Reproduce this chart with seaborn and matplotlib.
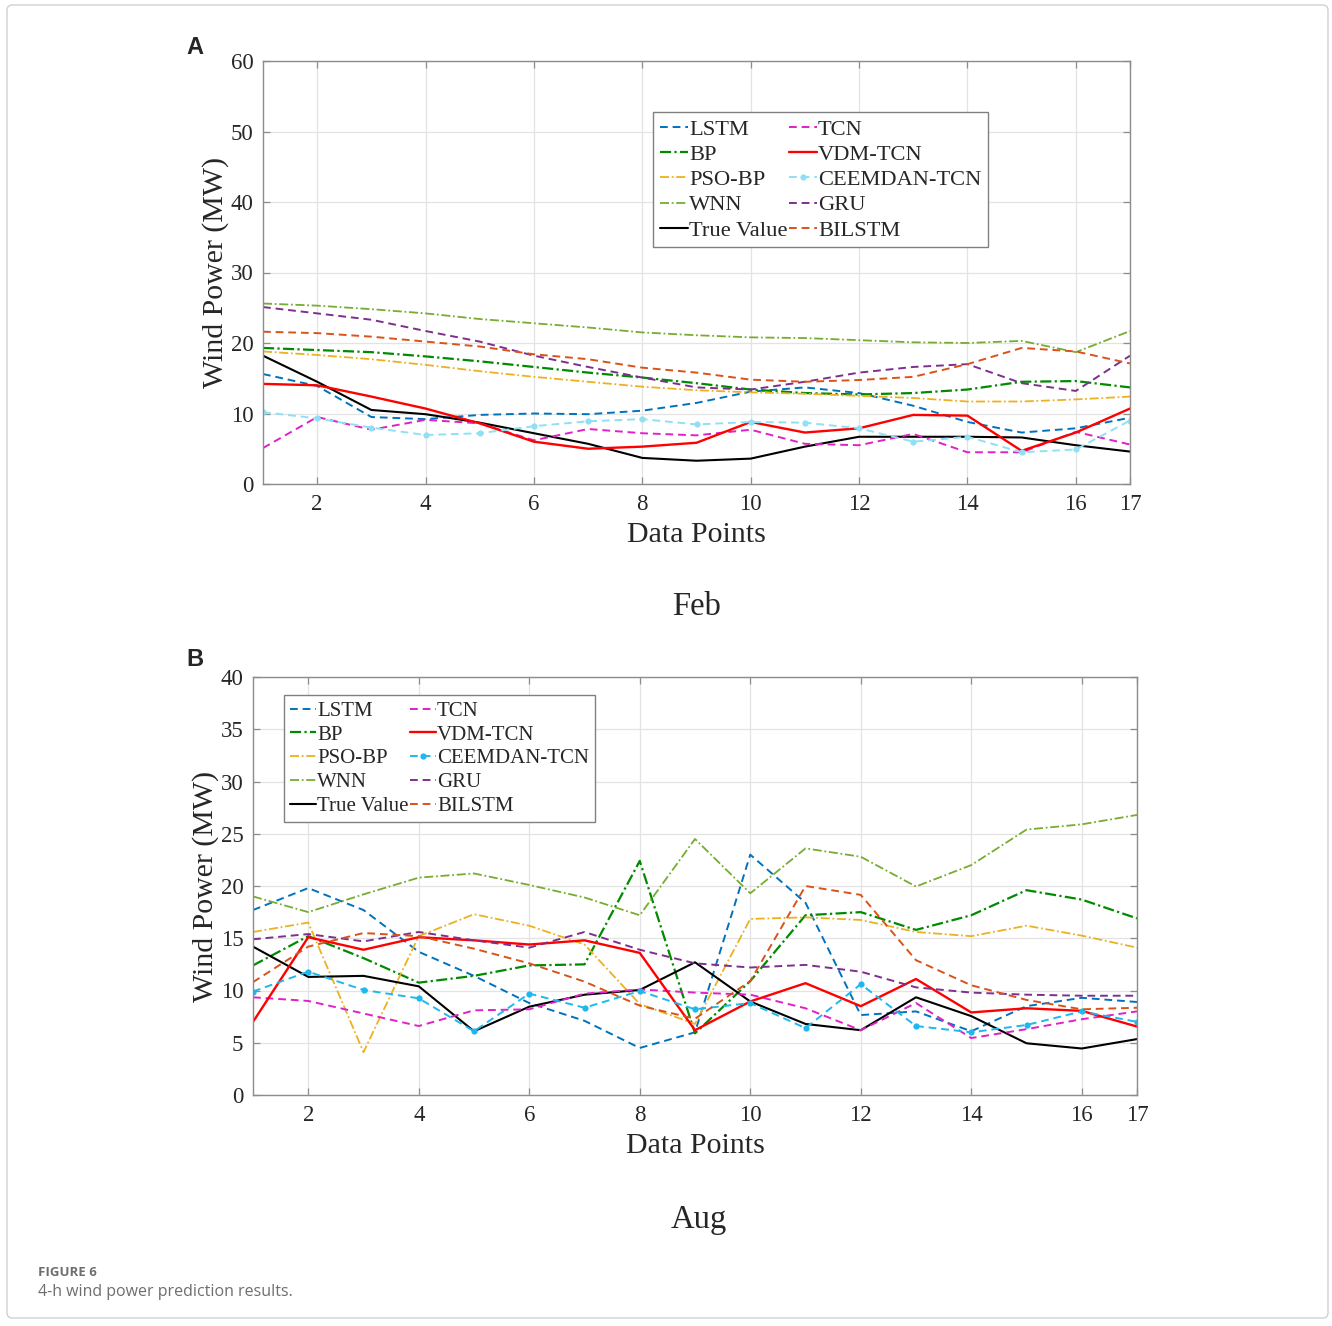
import numpy as np
import pandas as pd
import matplotlib
matplotlib.use("Agg")
import matplotlib.pyplot as plt
from matplotlib.patches import FancyBboxPatch
import seaborn as sns

x = list(range(1, 18))
labels = ["LSTM", "BP", "PSO-BP", "WNN", "True Value",
          "TCN", "VDM-TCN", "CEEMDAN-TCN", "GRU", "BILSTM"]

# ---- Feb (panel A) ----
feb_lstm = [15.6, 13.9, 9.5, 9.2, 9.8, 10.0, 9.9, 10.4, 11.5, 13.1, 13.7, 12.9, 11.1, 8.8, 7.3, 7.9, 9.4]
feb_bp = [19.3, 19.0, 18.7, 18.1, 17.4, 16.6, 15.8, 15.1, 14.3, 13.4, 12.9, 12.7, 12.9, 13.4, 14.5, 14.6, 13.7]
feb_psobp = [18.8, 18.3, 17.7, 16.9, 16.0, 15.2, 14.5, 13.8, 13.3, 13.0, 12.8, 12.5, 12.2, 11.7, 11.7, 12.0, 12.4]
feb_wnn = [25.6, 25.3, 24.8, 24.2, 23.4, 22.8, 22.2, 21.5, 21.1, 20.8, 20.7, 20.4, 20.1, 20.0, 20.3, 18.7, 21.7]
feb_true = [18.2, 14.5, 10.5, 9.9, 8.7, 7.2, 5.7, 3.7, 3.3, 3.6, 5.3, 6.7, 6.7, 6.7, 6.6, 5.5, 4.6]
feb_tcn = [5.1, 9.5, 7.7, 9.1, 8.6, 6.2, 7.8, 7.2, 6.9, 7.7, 5.7, 5.5, 7.1, 4.5, 4.5, 7.4, 5.6]
feb_vdm = [14.2, 14.0, 12.4, 10.7, 8.6, 6.0, 5.0, 5.3, 5.85, 8.8, 7.3, 7.9, 9.8, 9.7, 4.7, 7.3, 10.7]
feb_ceem = [10.2, 9.3, 8.0, 6.95, 7.2, 8.2, 8.9, 9.2, 8.45, 8.8, 8.7, 7.9, 6.0, 6.7, 4.5, 4.9, 9.0]
feb_gru = [25.1, 24.2, 23.3, 21.7, 20.2, 18.2, 16.6, 15.1, 13.7, 13.4, 14.5, 15.8, 16.6, 17.0, 14.3, 13.2, 18.2]
feb_bilstm = [21.6, 21.4, 20.9, 20.2, 19.5, 18.4, 17.7, 16.5, 15.8, 14.8, 14.5, 14.75, 15.2, 17.0, 19.3, 18.8, 17.1]

# ---- Aug (panel B) ----
aug_lstm = [17.7, 19.8, 17.7, 13.7, 11.4, 8.8, 7.1, 4.5, 6.0, 23.0, 18.4, 7.65, 8.0, 6.1, 8.5, 9.3, 8.9]
aug_bp = [12.4, 15.2, 13.1, 10.75, 11.4, 12.4, 12.5, 22.4, 5.9, 10.9, 17.2, 17.5, 15.8, 17.2, 19.6, 18.7, 16.9]
aug_psobp = [15.6, 16.5, 4.1, 15.2, 17.3, 16.2, 14.4, 8.7, 6.8, 16.85, 17.0, 16.75, 15.6, 15.2, 16.2, 15.25, 14.1]
aug_wnn = [19.0, 17.5, 19.2, 20.8, 21.2, 20.1, 18.9, 17.2, 24.5, 19.3, 23.6, 22.8, 19.95, 22.0, 25.4, 25.9, 26.8]
aug_true = [14.2, 11.3, 11.4, 10.4, 6.1, 8.45, 9.6, 10.05, 12.7, 8.95, 6.8, 6.2, 9.35, 7.55, 4.95, 4.45, 5.35]
aug_tcn = [9.35, 9.0, 7.8, 6.6, 8.1, 8.2, 9.7, 10.1, 9.8, 9.6, 8.3, 6.2, 8.8, 5.45, 6.3, 7.25, 8.0]
aug_vdm = [7.0, 15.1, 13.9, 15.1, 14.8, 14.4, 14.8, 13.6, 6.2, 8.95, 10.7, 8.5, 11.1, 7.9, 8.3, 8.05, 6.55]
aug_ceem = [9.9, 11.8, 10.05, 9.25, 6.1, 9.7, 8.35, 9.95, 8.2, 8.8, 6.4, 10.6, 6.6, 6.0, 6.7, 8.0, 7.0]
aug_gru = [14.9, 15.4, 14.7, 15.6, 14.8, 14.1, 15.6, 13.9, 12.6, 12.2, 12.45, 11.8, 10.3, 9.8, 9.6, 9.5, 9.5]
aug_bilstm = [10.8, 14.2, 15.5, 15.2, 14.0, 12.6, 10.85, 8.55, 7.3, 10.9, 20.0, 19.15, 12.9, 10.5, 9.1, 8.2, 8.35]

feb_series = [feb_lstm, feb_bp, feb_psobp, feb_wnn, feb_true,
              feb_tcn, feb_vdm, feb_ceem, feb_gru, feb_bilstm]
aug_series = [aug_lstm, aug_bp, aug_psobp, aug_wnn, aug_true,
              aug_tcn, aug_vdm, aug_ceem, aug_gru, aug_bilstm]

styles = {
    "LSTM": dict(color="#0072BD", ls=(0, (4, 2.5)), lw=1.4),
    "BP": dict(color="#008A00", ls=(0, (5, 1.5, 1, 1.5)), lw=1.6),
    "PSO-BP": dict(color="#EDB120", ls=(0, (5, 1.5, 1, 1.5)), lw=1.3),
    "WNN": dict(color="#77AC30", ls=(0, (5, 1.5, 1, 1.5)), lw=1.3),
    "True Value": dict(color="#000000", ls="-", lw=1.5),
    "TCN": dict(color="#E020C8", ls=(0, (4, 2.5)), lw=1.4),
    "VDM-TCN": dict(color="#FF0000", ls="-", lw=1.7),
    "CEEMDAN-TCN": dict(color="#4DBEEE", ls=(0, (4, 2.5)), lw=1.4, marker="o", ms=4.5),
    "GRU": dict(color="#7E2F8E", ls=(0, (4, 2.5)), lw=1.4),
    "BILSTM": dict(color="#D95319", ls=(0, (4, 2.5)), lw=1.4),
}

sns.set_theme(style="white")
plt.rcParams["font.family"] = ["Liberation Serif", "DejaVu Serif"]
plt.rcParams["mathtext.fontset"] = "stix"

fig = plt.figure(figsize=(13.32, 13.26), dpi=100)

# outer frame
fig.patches.append(FancyBboxPatch((7 / 1332, 1 - 1318 / 1326), 1321 / 1332, 1313 / 1326,
                                  boxstyle="round,pad=0,rounding_size=0.004",
                                  transform=fig.transFigure, fill=False,
                                  edgecolor="#d0d0d0", lw=1.0))

axA = fig.add_axes([263 / 1332, 1 - 484 / 1326, 867 / 1332, 423 / 1326])
axB = fig.add_axes([253 / 1332, 1 - 1095 / 1326, 884 / 1332, 418 / 1326])


def draw(ax, series, ymax, yticks, legend_anchor, ceem_color, legsize, ylpad):
    handles = []
    for lab, vals in zip(labels, series):
        st = dict(styles[lab])
        if lab == "CEEMDAN-TCN":
            st["color"] = ceem_color
        df = pd.DataFrame({"x": x, "y": vals})
        sns.lineplot(data=df, x="x", y="y", ax=ax, color=st["color"],
                     linestyle=st["ls"], linewidth=st["lw"],
                     marker=st.get("marker", None), markersize=st.get("ms", 0),
                     markeredgewidth=0, label=lab, legend=False)
        handles.append(ax.lines[-1])
    ax.set_xlim(1, 17)
    ax.set_ylim(0, ymax)
    ax.set_xticks([2, 4, 6, 8, 10, 12, 14, 16, 17])
    ax.set_yticks(yticks)
    ax.grid(True, color="#e3e3e3", lw=0.9)
    ax.set_axisbelow(True)
    for sp in ax.spines.values():
        sp.set_color("#8c8c8c")
        sp.set_linewidth(1.0)
        sp.set_visible(True)
    ax.tick_params(direction="in", length=5, width=0.9, color="#8c8c8c",
                   top=True, right=True, bottom=True, left=True,
                   labelsize=16.5, pad=7)
    ax.set_xlabel("Data Points", fontsize=21.5, labelpad=5)
    ax.set_ylabel("Wind Power (MW)", fontsize=21.5, labelpad=ylpad)
    leg = ax.legend(handles=handles, labels=labels, ncol=2, loc="upper left",
                    bbox_to_anchor=legend_anchor, fontsize=legsize,
                    handlelength=1.25, handletextpad=0.05, columnspacing=0.05,
                    labelspacing=0.2, borderpad=0.3, borderaxespad=0,
                    frameon=True, fancybox=False, framealpha=1)
    leg.get_frame().set_edgecolor("#808080")
    leg.get_frame().set_linewidth(1.0)


draw(axA, feb_series, 60, [0, 10, 20, 30, 40, 50, 60], (0.45, 0.879), "#8FE0F5", 16.2, 1)
draw(axB, aug_series, 40, [0, 5, 10, 15, 20, 25, 30, 35, 40], (0.035, 0.957), "#1FB8EE", 15.0, 1)

fig.text(697 / 1332, 1 - 607 / 1326, "Feb", fontsize=23.5, ha="center", va="center")
fig.text(699 / 1332, 1 - 1220 / 1326, "Aug", fontsize=23.5, ha="center", va="center")

fig.text(195 / 1332, 1 - 48 / 1326, "A", fontsize=17, fontweight="bold",
         family="Liberation Sans", ha="center", va="center")
fig.text(195 / 1332, 1 - 660 / 1326, "B", fontsize=17, fontweight="bold",
         family="Liberation Sans", ha="center", va="center")

fig.text(38 / 1332, 1 - 1272 / 1326, "FIGURE 6", fontsize=9.5, fontweight="bold",
         family="Open Sans", color="#6e6e6e", ha="left", va="center")
fig.text(38 / 1332, 1 - 1292 / 1326, "4-h wind power prediction results.", fontsize=11.5,
         family="Open Sans", color="#6e6e6e", ha="left", va="center")

fig.savefig("out.png", dpi=100, facecolor="white")
